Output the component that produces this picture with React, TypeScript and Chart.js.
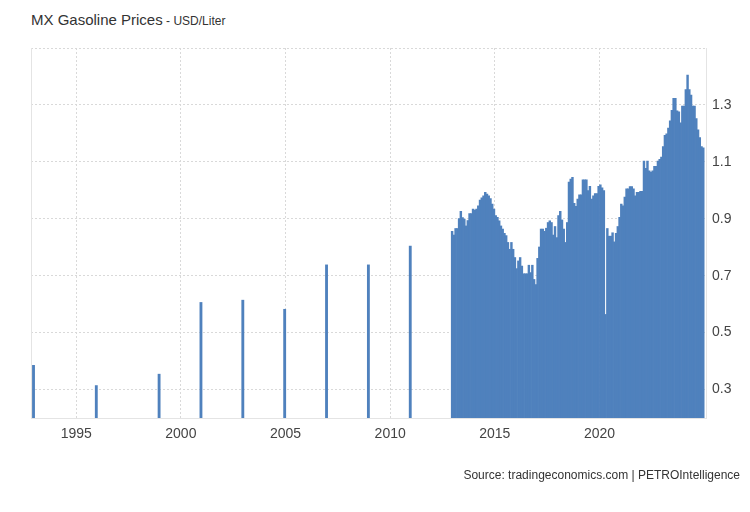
import React, { useEffect, useRef } from 'react';
import { Chart, registerables } from 'chart.js';

Chart.register(...registerables);

// Sparse annual observations (January of each year)
const sparseYears = [1993, 1996, 1999, 2001, 2003, 2005, 2007, 2009, 2011];
const sparseValues = [0.385, 0.314, 0.354, 0.606, 0.614, 0.582, 0.738, 0.738, 0.804];

// Monthly observations from January 2013 onward (USD/Liter)
const monthlyStartYear = 2013;
const monthlyValues = [
  // 2013
  0.857, 0.844, 0.867, 0.867, 0.902, 0.927, 0.905, 0.900, 0.876, 0.895, 0.919, 0.919,
  // 2014
  0.935, 0.932, 0.935, 0.947, 0.967, 0.975, 0.982, 0.994, 0.988, 0.982, 0.972, 0.953,
  // 2015
  0.935, 0.912, 0.906, 0.894, 0.876, 0.865, 0.850, 0.842, 0.818, 0.794, 0.818, 0.794,
  // 2016
  0.765, 0.726, 0.753, 0.765, 0.735, 0.708, 0.708, 0.708, 0.738, 0.712, 0.738, 0.688,
  // 2017
  0.670, 0.762, 0.802, 0.865, 0.865, 0.857, 0.868, 0.888, 0.894, 0.888, 0.844, 0.874,
  // 2018
  0.835, 0.912, 0.927, 0.897, 0.865, 0.818, 0.888, 1.030, 1.041, 1.047, 0.955, 0.945,
  // 2019
  0.970, 0.985, 0.985, 1.038, 1.038, 1.038, 1.000, 1.015, 0.970, 0.982, 0.990, 0.990,
  // 2020
  1.015, 1.020, 1.010, 1.000, 0.565, 0.867, 0.840, 0.840, 0.852, 0.820, 0.850, 0.874,
  // 2021
  0.906, 0.953, 0.947, 0.977, 1.006, 1.006, 1.014, 1.014, 1.006, 0.982, 0.994, 0.994,
  // 2022
  0.998, 0.998, 1.104, 1.078, 1.104, 1.070, 1.065, 1.070, 1.085, 1.085, 1.104, 1.110,
  // 2023
  1.118, 1.155, 1.194, 1.200, 1.220, 1.245, 1.282, 1.324, 1.324, 1.280, 1.277, 1.238,
  // 2024
  1.297, 1.297, 1.355, 1.406, 1.355, 1.336, 1.297, 1.297, 1.253, 1.214, 1.186, 1.155,
  // 2025
  1.150,
];

const xTickYears = [1995, 2000, 2005, 2010, 2015, 2020];
const yTickValues = [0.3, 0.5, 0.7, 0.9, 1.1, 1.3];

const X_MIN = 1992.84;
const X_MAX = 2025.09;
const Y_MIN = 0.2;
const Y_MAX = 1.5;
const BAR_SHIFT = -0.04; // bars sit just left of their date

const BAR_COLOR = '#4f81bd';
const GRID_COLOR = '#d9d9d9';
const AXIS_COLOR = '#e4e4e4';
const TEXT_COLOR = '#444';
const FONT_FAMILY = '"Liberation Sans", Arial, Helvetica, sans-serif';

const sparsePoints = sparseYears.map((yr, i) => ({ x: yr + BAR_SHIFT, y: sparseValues[i] }));
const monthlyPoints = monthlyValues.map((v, i) => ({
  x: monthlyStartYear + i / 12 + BAR_SHIFT,
  y: v,
}));

const leftBorderPlugin = {
  id: 'leftBorder',
  beforeDatasetsDraw(chart: any) {
    const { ctx, chartArea } = chart;
    ctx.save();
    ctx.strokeStyle = AXIS_COLOR;
    ctx.lineWidth = 1;
    ctx.beginPath();
    const x = Math.round(chartArea.left) + 0.5;
    ctx.moveTo(x, chartArea.top);
    ctx.lineTo(x, chartArea.bottom);
    ctx.stroke();
    ctx.restore();
  },
};

export default function App() {
  const ref = useRef<HTMLCanvasElement>(null);

  useEffect(() => {
    if (!ref.current) return;
    const chart = new Chart(ref.current, {
      type: 'bar',
      data: {
        datasets: [
          {
            data: sparsePoints as any,
            backgroundColor: BAR_COLOR,
            borderWidth: 0,
            barThickness: 2.2,
            grouped: false,
          },
          {
            data: monthlyPoints as any,
            backgroundColor: BAR_COLOR,
            borderWidth: 0,
            barPercentage: 1.4,
            categoryPercentage: 1,
            grouped: false,
          },
        ],
      },
      options: {
        animation: false,
        responsive: false,
        maintainAspectRatio: false,
        layout: { padding: { left: 31, top: 48, right: 0, bottom: 0 } },
        plugins: {
          legend: { display: false },
          tooltip: { enabled: false },
          title: { display: false },
        },
        scales: {
          x: {
            type: 'linear',
            min: X_MIN,
            max: X_MAX,
            offset: false,
            afterBuildTicks: (axis: any) => {
              axis.ticks = xTickYears.map((v) => ({ value: v }));
            },
            afterFit: (axis: any) => {
              axis.height = 94;
            },
            grid: {
              offset: false,
              color: GRID_COLOR,
              drawTicks: false,
              lineWidth: 1,
            },
            border: { display: true, color: AXIS_COLOR, dash: [2, 2] },
            ticks: {
              padding: 8,
              color: TEXT_COLOR,
              font: { family: FONT_FAMILY, size: 14 },
              maxRotation: 0,
              autoSkip: false,
              callback: (v: any) => String(v),
            },
          },
          y: {
            type: 'linear',
            position: 'right',
            min: Y_MIN,
            max: Y_MAX,
            afterBuildTicks: (axis: any) => {
              axis.ticks = [...yTickValues, Y_MAX].map((v) => ({ value: v }));
            },
            afterFit: (axis: any) => {
              axis.width = 44;
            },
            grid: {
              color: GRID_COLOR,
              drawTicks: false,
              lineWidth: 1,
            },
            border: { display: true, color: AXIS_COLOR, dash: [2, 2] },
            ticks: {
              padding: 6,
              color: TEXT_COLOR,
              font: { family: FONT_FAMILY, size: 14 },
              callback: (v: any) =>
                yTickValues.some((t) => Math.abs(t - v) < 1e-9) ? Number(v).toFixed(1) : '',
            },
          },
        },
      },
      plugins: [leftBorderPlugin],
    });
    return () => chart.destroy();
  }, []);

  return (
    <div
      style={{
        position: 'absolute',
        left: 0,
        top: 0,
        width: 750,
        height: 512,
        background: '#fff',
        fontFamily: FONT_FAMILY,
        overflow: 'hidden',
      }}
    >
      <div
        style={{
          position: 'absolute',
          left: 31,
          top: 12,
          fontSize: 15,
          lineHeight: '15px',
          color: '#333',
          whiteSpace: 'nowrap',
        }}
      >
        MX Gasoline Prices<span style={{ fontSize: 12 }}> - USD/Liter</span>
      </div>
      <canvas
        ref={ref}
        width={750}
        height={512}
        style={{ position: 'absolute', left: 0, top: 0, width: 750, height: 512 }}
      />
      <div
        style={{
          position: 'absolute',
          right: 10,
          top: 469,
          fontSize: 12,
          lineHeight: '12px',
          color: '#333',
          whiteSpace: 'nowrap',
        }}
      >
        Source: tradingeconomics.com | PETROIntelligence
      </div>
    </div>
  );
}
